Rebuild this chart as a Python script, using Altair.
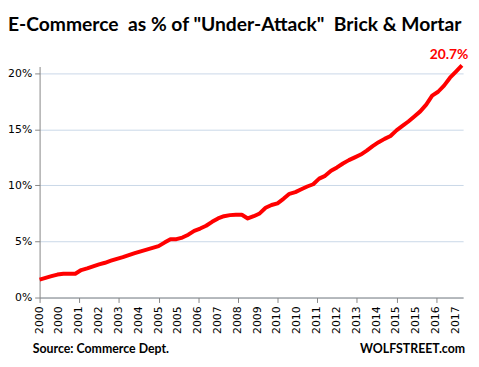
import altair as alt
import pandas as pd

# Quarterly dates (start of quarter), Q1 2000 .. Q4 2017
quarters = pd.date_range("2000-01-01", periods=72, freq="QS")

# E-commerce share of "brick & mortar" retail sales, %
share = [1.6, 1.75, 1.9, 2.05, 2.12, 2.12, 2.12,
         2.45, 2.6, 2.78, 2.95, 3.1, 3.28, 3.45, 3.6, 3.78, 3.95, 4.12,
         4.27, 4.42, 4.58, 4.9, 5.2, 5.2, 5.35, 5.6, 5.95, 6.15, 6.4, 6.75, 7.05, 7.25, 7.35, 7.38, 7.38, 7.05,
         7.25, 7.5, 8.0, 8.25, 8.4, 8.8, 9.25, 9.4, 9.65, 9.9, 10.1, 10.6, 10.85, 11.3, 11.6, 11.95,
         12.25, 12.5, 12.75, 13.1, 13.5, 13.85, 14.15, 14.4, 14.9, 15.3, 15.7, 16.15, 16.6, 17.2, 18.0, 18.35,
         18.9, 19.6, 20.15, 20.7]

y_ticks = [0, 5, 10, 15, 20]
# x tick every 10 months from Jan 2000 (as in the original Excel chart), in months since Jan 2000
x_ticks = list(range(0, 211, 10))
x_tick_labels = ["2000", "2000", "2001", "2002", "2003", "2004", "2005", "2005", "2006", "2007", "2008",
                 "2009", "2010", "2010", "2011", "2012", "2013", "2014", "2015", "2015", "2016", "2017"]
x_end = 213.6  # axis end, months since Jan 2000

NB = "\u00a0"
title_text = "E-Commerce" + NB + " as % of \"Under-Attack\"" + NB + " Brick & Mortar"
source_text = "Source: Commerce Dept."
brand_text = "WOLFSTREET.com"
last_label = "20.7%"

months = [(d.year - 2000) * 12 + (d.month - 1) for d in quarters]
df = pd.DataFrame({"month": months, "share": share})
last_df = df.tail(1).assign(label=last_label)
ticks_df = pd.DataFrame({"month": x_ticks, "label": x_tick_labels})

FONT = "Lato"
AXFONT = "DejaVu Sans"

x_scale = alt.Scale(domain=[0, x_end], nice=False, zero=False)

x_enc = alt.X(
    "month:Q",
    title=None,
    scale=x_scale,
    axis=alt.Axis(
        values=x_ticks,
        labels=False,
        tickSize=5,
        tickColor="#868686",
        domainColor="#868686",
        grid=False,
    ),
)
y_enc = alt.Y(
    "share:Q",
    title=None,
    scale=alt.Scale(domain=[0, 20.6], nice=False, zero=True),
    axis=alt.Axis(
        values=y_ticks,
        labelExpr="datum.value + '%'",
        labelFont=AXFONT,
        labelFontSize=11,
        labelColor="#000000",
        labelPadding=3,
        tickSize=5,
        tickColor="#868686",
        domainColor="#868686",
        grid=True,
        gridColor="#C9D7E8",
        gridWidth=1,
    ),
)

line = alt.Chart(df).mark_line(color="#FF0000", strokeWidth=4, strokeJoin="round").encode(x=x_enc, y=y_enc)

xlabels = alt.Chart(ticks_df).mark_text(
    font=AXFONT, fontSize=11, color="#000000", angle=270, align="right", baseline="middle",
).encode(x=alt.X("month:Q", scale=x_scale), y=alt.value(243), text="label:N")

label = alt.Chart(last_df).mark_text(
    font=FONT, fontWeight="bold", fontSize=14, color="#FF0000",
    align="center", baseline="middle", dx=-13, dy=-10,
).encode(x="month:Q", y="share:Q", text="label:N")

footer_left = alt.Chart(alt.Data(values=[{}])).mark_text(
    font=FONT, fontWeight="bold", fontSize=12.5, color="#000000", align="left", baseline="middle",
).encode(x=alt.value(-7), y=alt.value(286), text=alt.value(source_text))

footer_right = alt.Chart(alt.Data(values=[{}])).mark_text(
    font=FONT, fontWeight="bold", fontSize=12.5, color="#000000", align="right", baseline="middle",
).encode(x=alt.value(431), y=alt.value(286), text=alt.value(brand_text))

chart = alt.layer(line, xlabels, label, footer_left, footer_right).properties(
    width=429,
    height=234,
    title=alt.TitleParams(
        text=title_text, anchor="start", frame="group", dx=-32, offset=13,
        font=FONT, fontWeight="bold", fontSize=19.5, color="#000000",
    ),
    autosize=alt.AutoSizeParams(type="none"),
    padding={"left": 32, "top": 57, "right": 8, "bottom": 60},
).configure_view(stroke=None)

chart.save("out.html", embed_options={"renderer": "svg", "actions": False})
